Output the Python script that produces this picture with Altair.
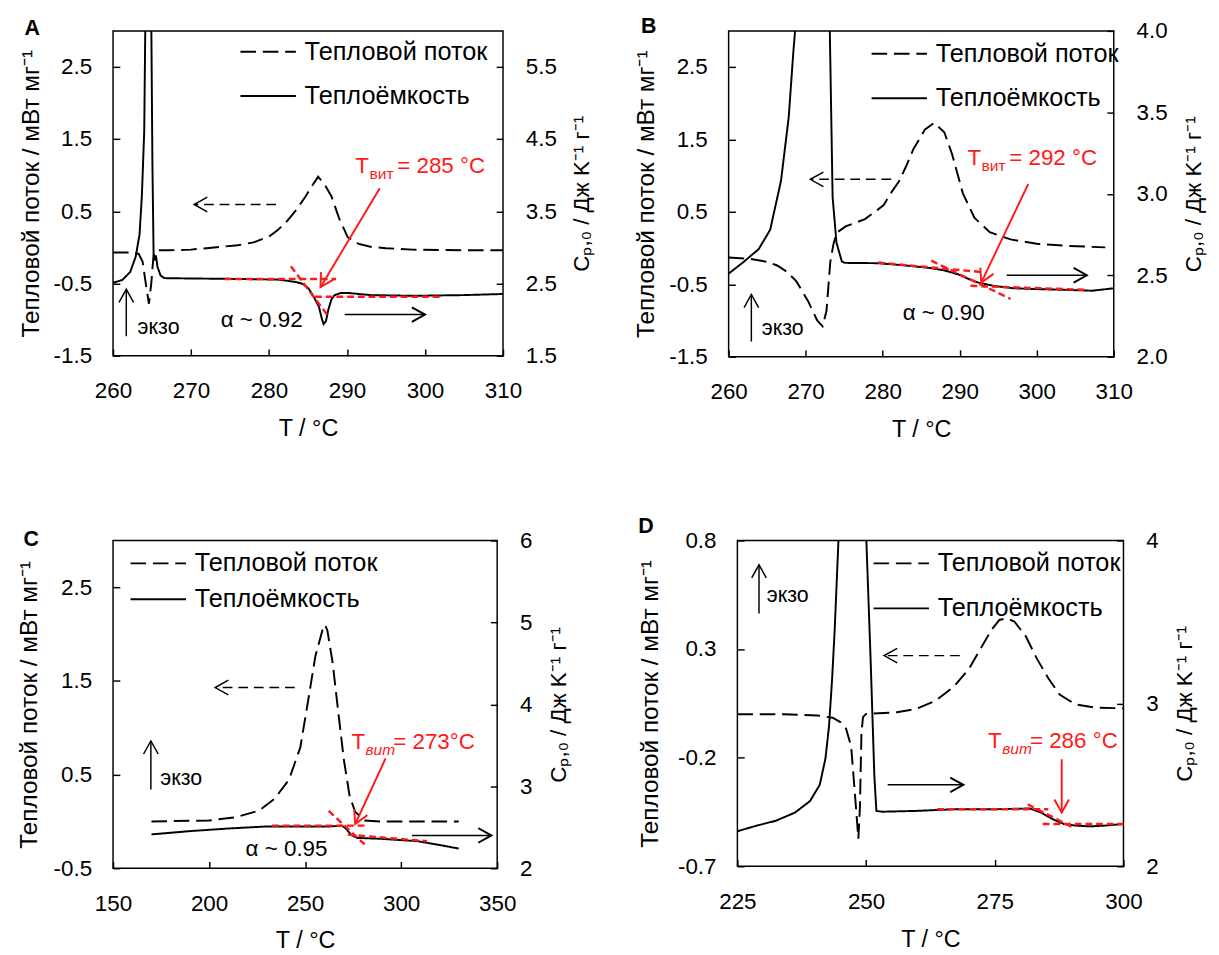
import math
import pandas as pd
import altair as alt

FONT = "Liberation Sans"
HF = "Тепловой поток"
CP = "Теплоёмкость"
LEFT_TITLE = "Тепловой поток / мВт мг⁻¹"
RIGHT_TITLE = "Cₚ,₀ / Дж K⁻¹ г⁻¹"
X_TITLE = "T / °C"

# ---------------- Panel A ----------------
A_hf_T = [260, 262.5, 263.3, 263.8, 264.2, 264.6, 264.9, 265.2, 265.5, 267, 270, 272, 274, 276, 278, 280, 281,
          282.2, 283.5, 284.7, 285.5, 286.3, 287.2, 288.0, 289.0, 290.1, 291.5, 293.0, 295, 298.4, 302, 306, 310]
A_hf_V = [-0.07, -0.07, -0.09, -0.2, -0.5, -0.78, -0.5, -0.1, -0.04, -0.04, -0.03, -0.01, 0.01, 0.03, 0.07, 0.15, 0.23,
          0.35, 0.52, 0.71, 0.85, 0.98, 0.86, 0.71, 0.40, 0.14, 0.05, 0.01, -0.01, -0.03, -0.035, -0.04, -0.04]
A_cp_T = [260, 261.2, 262.2, 262.9, 263.4, 263.7, 264.0, 264.15, 264.5, 264.9, 265.05, 265.2, 265.4, 265.5, 265.7,
          266.1, 266.6, 270, 275, 281.1, 282.2, 283.5, 284.3, 285.0, 285.5, 286.0, 286.4, 286.8, 287.0, 287.3,
          287.6, 288.0, 288.4, 289.2, 290.1, 293.0, 298.4, 305, 310]
A_cp_V = [2.51, 2.55, 2.66, 2.87, 3.18, 3.72, 4.61, 6.2, 9.0, 6.2, 4.16, 2.91, 2.82, 2.89, 2.73,
          2.61, 2.575, 2.57, 2.565, 2.555, 2.54, 2.52, 2.496, 2.44, 2.36, 2.26, 2.18, 2.0, 1.94, 1.98,
          2.136, 2.28, 2.338, 2.37, 2.37, 2.34, 2.33, 2.34, 2.355]
A_red_t1 = [274.3, 285.9, 282.8]
A_red_v1 = [2.563, 2.317, 2.74]
A_red_t2 = [288.6, 302.2, 287.6]
A_red_v2 = [2.563, 2.317, 2.047]
A_red_arrow = [294.2, 3.82, 286.6, 2.45]
A_tg_label = [291.07, 4.12, "= 285 °C"]
A_right_arrow = [289.7, 300.0, 2.07]
A_alpha = [273.8, 1.99, "α ~ 0.92"]
A_left_arrow = [280.9, 270.4, 0.595]
A_exo_arrow = [261.7, -1.23, -0.58]
A_exo_text = [263.15, -1.10]

# ---------------- Panel B ----------------
B_hf_T = [260, 262.9, 265, 266.3, 267.6, 268.8, 270.3, 271.5, 272.2, 272.7, 273.2, 273.6, 274.0, 275.2, 277.7,
          280.1, 281.0, 282.1, 283.0, 284.0, 285.5, 286.7, 288.0, 289.0, 290.4, 291.9, 293.9, 296.6, 300, 304, 308.9]
B_hf_V = [-0.13, -0.15, -0.19, -0.24, -0.33, -0.46, -0.73, -1.0, -1.08, -0.87, -0.19, 0.05, 0.21, 0.30, 0.40,
          0.59, 0.75, 0.92, 1.12, 1.37, 1.64, 1.73, 1.60, 1.3, 0.76, 0.42, 0.22, 0.12, 0.06, 0.03, 0.01]
B_cp_T = [260, 261.9, 263.9, 265.4, 266.8, 267.8, 268.4, 268.8, 270.9, 273.1, 273.5, 274.0, 274.7, 275.1, 279.4,
          283, 286.2, 288, 289.9, 291, 292.4, 294.5, 297, 300, 304, 307.2, 310]
B_cp_V = [2.51, 2.58, 2.66, 2.78, 3.08, 3.47, 3.87, 4.1, 6.0, 4.1, 2.98, 2.70, 2.584, 2.576, 2.574,
          2.56, 2.544, 2.53, 2.504, 2.48, 2.455, 2.434, 2.42, 2.415, 2.41, 2.405, 2.42]
B_red_t1 = [279.4, 286.3, 291.4]
B_red_v1 = [2.578, 2.59, 2.435]
B_red_t2 = [292.8, 296.6, 306.7]
B_red_v2 = [2.52, 2.355, 2.41]
B_red_arrow = [298.9, 3.06, 292.8, 2.455]
B_tg_label = [291.0, 3.22, "= 292 °C"]
B_right_arrow = [296.1, 306.5, 2.50]
B_alpha = [282.6, 2.265, "α ~ 0.90"]
B_left_arrow = [281.1, 270.6, 0.95]
B_exo_arrow = [262.95, -1.29, -0.64]
B_exo_text = [264.3, -1.11]

# ---------------- Panel C ----------------
C_hf_T = [170, 200, 214, 226, 234, 241.6, 247.5, 251.5, 255.4, 259.0, 260.4, 261.6, 264.3, 267.2, 270.2, 273.2,
          276.1, 281, 289, 310, 330]
C_hf_V = [0.0, 0.01, 0.045, 0.115, 0.24, 0.445, 0.79, 1.28, 1.77, 2.04, 2.1, 2.04, 1.70, 1.18, 0.655, 0.27,
          0.10, 0.01, 0.0, 0.0, 0.0]
C_cp_T = [170, 190, 210, 230, 250, 263, 269.2, 271.2, 274.1, 277.1, 289, 299, 308.6, 318.5, 330]
C_cp_V = [2.413, 2.453, 2.485, 2.51, 2.51, 2.51, 2.52, 2.485, 2.405, 2.37, 2.36, 2.345, 2.33, 2.29, 2.24]
C_red_t1 = [232.8, 262.3, 272.2]
C_red_v1 = [2.52, 2.70, 2.41]
C_red_t2 = [281, 281, 313.5]
C_red_v2 = [2.52, 2.29, 2.33]
C_red_arrow = [291.9, 3.34, 276.1, 2.54]
C_tg_label = [274.1, 3.54, "= 273°C"]
C_right_arrow = [305.7, 347, 2.40]
C_alpha = [219, 2.23, "α ~ 0.95"]
C_left_arrow = [244.6, 203.2, 1.43]
C_exo_arrow = [169.7, 0.34, 0.86]
C_exo_text = [174.6, 0.46]

# ---------------- Panel D ----------------
D_hf_T = [225, 234, 240.6, 243.5, 245, 246.1, 247.1, 247.8, 248.5, 248.8, 249.1, 249.4, 250, 252.4, 256, 259.7,
          263.4, 267.1, 270, 272.2, 274.4, 275.9, 277.4, 278.8, 281, 283.2, 285.4, 287.6, 290.6, 294.3, 300]
D_hf_V = [0.0, 0.0, -0.006, -0.016, -0.036, -0.066, -0.148, -0.357, -0.573, -0.43, -0.088, -0.013, 0.0015, 0.005,
          0.009, 0.024, 0.061, 0.128, 0.21, 0.30, 0.39, 0.434, 0.442, 0.427, 0.36, 0.255, 0.166, 0.091, 0.046,
          0.031, 0.027]
D_cp_T = [225, 228.8, 232.5, 236.2, 239.1, 241.0, 242.1, 242.8, 243.4, 243.9, 244.3, 244.7, 247.3, 250.0, 250.9,
          251.6, 252.0, 253.1, 259.7, 267.1, 274.4, 281.8, 284, 286.2, 288.4, 290.6, 293.5, 296.5, 300]
D_cp_V = [2.215, 2.25, 2.28, 2.33, 2.40, 2.50, 2.66, 2.86, 3.15, 3.45, 3.75, 4.05, 6.0, 4.05, 3.25,
          2.56, 2.34, 2.335, 2.34, 2.35, 2.35, 2.355, 2.33, 2.29, 2.26, 2.25, 2.245, 2.25, 2.26]
D_red_t1 = [263.8, 284.3, 281.4]
D_red_v1 = [2.35, 2.26, 2.38]
D_red_t2 = [285.4, 300, 289.9]
D_red_v2 = [2.35, 2.26, 2.243]
D_red_arrow = [288.0, 2.657, 288.0, 2.33]
D_tg_label = [273.7, 2.766, "= 286 °C"]
D_right_arrow = [254.2, 268.9, 2.50]
D_left_arrow = [268.2, 253.5, 0.27]
D_exo_arrow = [229.2, 0.464, 0.688]
D_exo_text = [230.7, 0.546]

# ---------------- styling ----------------
FS = 23
FS_CYR = 25
FS_LEG = 26
TICK = 7
GAP = 4000
LEG_LEN = 57
HEAD = "M 1.8 -1 L 0 0 L 1.8 1"
RED = "#ff1a1a"


def num_label(fmt):
    return f"datum.value < 0 ? '-' + format(-datum.value, '{fmt}') : format(datum.value, '{fmt}')"


def head_angle(x1, y1, x2, y2, kx, ky):
    dx = (x2 - x1) * kx
    dy = -(y2 - y1) * ky
    phi = math.degrees(math.atan2(dy, dx))
    return (phi - 180.0) % 360.0


def make_panel(P):
    W, H = P["size"]
    xs = alt.Scale(domain=P["xdom"], nice=False, zero=False)
    ls = alt.Scale(domain=P["ldom"], nice=False, zero=False)
    rs = alt.Scale(domain=P["rdom"], nice=False, zero=False)
    kx = W / (P["xdom"][1] - P["xdom"][0])
    kl = H / (P["ldom"][1] - P["ldom"][0])
    kr = H / (P["rdom"][1] - P["rdom"][0])

    common = dict(labelFont=FONT, titleFont=FONT, labelFontSize=FS,
                  labelColor="black", titleColor="black", titleFontWeight="normal",
                  ticks=False, domain=False, grid=True, gridColor="black", gridWidth=1.5,
                  gridOpacity=1, gridDash=[TICK, GAP], labelFlush=False, labelOverlap=False)
    x_axis = alt.Axis(values=P["xticks"], format="d", title=X_TITLE, titleFontSize=24, labelPadding=25,
                      titlePadding=15, gridDashOffset=TICK + GAP - (H - TICK), **common)
    l_axis = alt.Axis(values=P["lticks"], labelExpr=num_label(P["lfmt"]), title=LEFT_TITLE,
                      titleFontSize=FS_CYR, orient="left", labelPadding=22, titlePadding=P["ltp"], **common)
    r_axis = alt.Axis(values=P["rticks"], labelExpr=num_label(P["rfmt"]), title=RIGHT_TITLE,
                      titleFontSize=FS, orient="right", labelPadding=23, titlePadding=P["rtp"], titleAngle=270,
                      titleBaseline="top", **common)

    lx, ly, lrow = P["legend"]
    leg = alt.Legend(orient="none", legendX=lx, legendY=ly, title=None, symbolType="stroke",
                     symbolSize=LEG_LEN ** 2, symbolStrokeWidth=2, symbolStrokeColor="black",
                     labelFont=FONT, labelFontSize=FS_LEG, labelColor="black", labelLimit=0,
                     labelOffset=8, rowPadding=lrow, padding=0, clipHeight=23)
    dash = alt.StrokeDash("series:N", scale=alt.Scale(domain=[HF, CP], range=[[16, 7], [1, 0]]),
                          legend=leg)

    def X(f="t"):
        return alt.X(f + ":Q", scale=xs, axis=x_axis)

    def YL(f="v"):
        return alt.Y(f + ":Q", scale=ls, axis=l_axis)

    def YR(f="v"):
        return alt.Y(f + ":Q", scale=rs, axis=r_axis)

    # --- left (heat flow) layer
    hf_df = pd.DataFrame({"t": P["hfT"], "v": P["hfV"], "series": HF})
    hf = alt.Chart(hf_df).mark_line(color="black", strokeWidth=2).encode(x=X(), y=YL(), strokeDash=dash)

    la = P["left_arrow"]
    la_df = pd.DataFrame({"t": [la[0]], "t2": [la[1]], "v": [la[2]]})
    la_rule = alt.Chart(la_df).mark_rule(color="black", strokeWidth=1.5, strokeDash=[10, 6]).encode(
        x=X(), x2="t2:Q", y=YL())
    ea = P["exo_arrow"]
    ea_df = pd.DataFrame({"t": [ea[0]], "v": [ea[1]], "v2": [ea[2]]})
    ea_rule = alt.Chart(ea_df).mark_rule(color="black", strokeWidth=1.5).encode(x=X(), y=YL(), y2="v2:Q")
    lh_df = pd.DataFrame({"t": [la[1], ea[0]], "v": [la[2], ea[2]],
                          "ang": [head_angle(la[0], la[2], la[1], la[2], kx, kl),
                                  head_angle(ea[0], ea[1], ea[0], ea[2], kx, kl)],
                          "c": ["black", "black"]})
    lheads = alt.Chart(lh_df).mark_point(shape=HEAD, filled=False, size=225, strokeWidth=1.5, opacity=1).encode(
        x=X(), y=YL(), angle=alt.Angle("ang:Q", scale=None), color=alt.Color("c:N", scale=None))
    et = P["exo_text"]
    et_df = pd.DataFrame({"t": [et[0]], "v": [et[1]], "s": ["экзо"]})
    exo_txt = alt.Chart(et_df).mark_text(align="left", baseline="middle", font=FONT, fontSize=22,
                                         color="black").encode(x=X(), y=YL(), text="s:N")
    left = alt.layer(hf, la_rule, ea_rule, lheads, exo_txt)

    # --- right (heat capacity) layer
    cp_df = pd.DataFrame({"t": P["cpT"], "v": P["cpV"], "series": CP})
    cp = alt.Chart(cp_df).mark_line(color="black", strokeWidth=2, clip=True).encode(
        x=X(), y=YR(), strokeDash=dash)

    red_df = pd.DataFrame({"t": P["red_t1"], "v": P["red_v1"], "t2": P["red_t2"], "v2": P["red_v2"]})
    red_rules = alt.Chart(red_df).mark_rule(color=RED, strokeWidth=2.5, strokeDash=[7, 4]).encode(
        x=X(), y=YR(), x2="t2:Q", y2="v2:Q")
    ra = P["red_arrow"]
    ra_df = pd.DataFrame({"t": [ra[0]], "v": [ra[1]], "t2": [ra[2]], "v2": [ra[3]]})
    ra_rule = alt.Chart(ra_df).mark_rule(color=RED, strokeWidth=2).encode(
        x=X(), y=YR(), x2="t2:Q", y2="v2:Q")
    ba = P["right_arrow"]
    ba_df = pd.DataFrame({"t": [ba[0]], "t2": [ba[1]], "v": [ba[2]]})
    ba_rule = alt.Chart(ba_df).mark_rule(color="black", strokeWidth=1.5).encode(x=X(), x2="t2:Q", y=YR())
    rh_df = pd.DataFrame({"t": [ra[2], ba[1]], "v": [ra[3], ba[2]],
                          "ang": [head_angle(ra[0], ra[1], ra[2], ra[3], kx, kr),
                                  head_angle(ba[0], ba[2], ba[1], ba[2], kx, kr)],
                          "c": [RED, "black"]})
    rheads = alt.Chart(rh_df).mark_point(shape=HEAD, filled=False, size=225, strokeWidth=2, opacity=1).encode(
        x=X(), y=YR(), angle=alt.Angle("ang:Q", scale=None), color=alt.Color("c:N", scale=None))

    tl = P["tg_label"]
    tl_df = pd.DataFrame({"t": [tl[0]], "v": [tl[1]], "a": ["T"], "b": ["вит"], "c": [tl[2]]})
    tT = alt.Chart(tl_df).mark_text(align="left", baseline="middle", font=FONT, fontSize=FS,
                                    color=RED).encode(x=X(), y=YR(), text="a:N")
    tS = alt.Chart(tl_df).mark_text(align="left", baseline="middle", font=FONT, fontSize=16, dx=14.5, dy=8,
                                    fontStyle=P["sub_style"], color=RED).encode(x=X(), y=YR(), text="b:N")
    tR = alt.Chart(tl_df).mark_text(align="left", baseline="middle", font=FONT, fontSize=FS, dx=43,
                                    color=RED).encode(x=X(), y=YR(), text="c:N")
    rlayers = [cp, red_rules, ra_rule, ba_rule, rheads, tT, tS, tR]
    if P.get("alpha"):
        al = P["alpha"]
        al_df = pd.DataFrame({"t": [al[0]], "v": [al[1]], "s": [al[2]]})
        rlayers.append(alt.Chart(al_df).mark_text(align="left", baseline="middle", font=FONT, fontSize=FS,
                                                  color="black").encode(x=X(), y=YR(), text="s:N"))
    if P.get("indent"):
        # invisible white layout spacer: reproduces the extra left indent of this panel's row
        sp_df = pd.DataFrame({"s": [0]})
        rlayers.append(alt.Chart(sp_df).mark_point(size=1, filled=True, color="white", opacity=1).encode(
            x=alt.value(-P["indent"]), y=alt.value(0)))
    right = alt.layer(*rlayers)

    title = alt.TitleParams(P["letter"], anchor="start", frame="group", dx=P["tdx"],
                            fontSize=22, fontWeight="bold", font=FONT, color="black", offset=P["toff"])
    return alt.layer(left, right).resolve_scale(y="independent").properties(width=W, height=H, title=title)


PA = dict(letter="A", size=(401, 334), xdom=[260, 310], ldom=[-1.5, 3.0], rdom=[1.5, 6.0],
          xticks=[260, 270, 280, 290, 300, 310], lticks=[-1.5, -0.5, 0.5, 1.5, 2.5],
          rticks=[1.5, 2.5, 3.5, 4.5, 5.5], lfmt=".1f", rfmt=".1f", ltp=10, rtp=15,
          hfT=A_hf_T, hfV=A_hf_V, cpT=A_cp_T, cpV=A_cp_V,
          red_t1=A_red_t1, red_v1=A_red_v1, red_t2=A_red_t2, red_v2=A_red_v2,
          red_arrow=A_red_arrow, tg_label=A_tg_label, right_arrow=A_right_arrow, alpha=A_alpha,
          left_arrow=A_left_arrow, exo_arrow=A_exo_arrow, exo_text=A_exo_text,
          sub_style="normal", legend=(130, 10, 18.5), tdx=-91, toff=-9)
PB = dict(letter="B", size=(396, 335), xdom=[260, 310], ldom=[-1.5, 3.0], rdom=[2.0, 4.0],
          xticks=[260, 270, 280, 290, 300, 310], lticks=[-1.5, -0.5, 0.5, 1.5, 2.5],
          rticks=[2.0, 2.5, 3.0, 3.5, 4.0], lfmt=".1f", rfmt=".1f", ltp=11, rtp=16,
          hfT=B_hf_T, hfV=B_hf_V, cpT=B_cp_T, cpV=B_cp_V,
          red_t1=B_red_t1, red_v1=B_red_v1, red_t2=B_red_t2, red_v2=B_red_v2,
          red_arrow=B_red_arrow, tg_label=B_tg_label, right_arrow=B_right_arrow, alpha=B_alpha,
          left_arrow=B_left_arrow, exo_arrow=B_exo_arrow, exo_text=B_exo_text,
          sub_style="normal", legend=(146, 12, 18.7), tdx=-90, toff=-18)
PC = dict(letter="C", size=(395, 337), xdom=[150, 350], ldom=[-0.5, 3.0], rdom=[2.0, 6.0],
          xticks=[150, 200, 250, 300, 350], lticks=[-0.5, 0.5, 1.5, 2.5],
          rticks=[2, 3, 4, 5, 6], lfmt=".1f", rfmt=".0f", ltp=12, rtp=16,
          hfT=C_hf_T, hfV=C_hf_V, cpT=C_cp_T, cpV=C_cp_V,
          red_t1=C_red_t1, red_v1=C_red_v1, red_t2=C_red_t2, red_v2=C_red_v2,
          red_arrow=C_red_arrow, tg_label=C_tg_label, right_arrow=C_right_arrow, alpha=C_alpha,
          left_arrow=C_left_arrow, exo_arrow=C_exo_arrow, exo_text=C_exo_text,
          sub_style="italic", legend=(17, 12, 10), tdx=-92, toff=-22, indent=116)
PD = dict(letter="D", size=(397, 335), xdom=[225, 300], ldom=[-0.7, 0.8], rdom=[2.0, 4.0],
          xticks=[225, 250, 275, 300], lticks=[-0.7, -0.2, 0.3, 0.8],
          rticks=[2, 3, 4], lfmt=".1f", rfmt=".0f", ltp=15, rtp=16,
          hfT=D_hf_T, hfV=D_hf_V, cpT=D_cp_T, cpV=D_cp_V,
          red_t1=D_red_t1, red_v1=D_red_v1, red_t2=D_red_t2, red_v2=D_red_v2,
          red_arrow=D_red_arrow, tg_label=D_tg_label, right_arrow=D_right_arrow, alpha=None,
          left_arrow=D_left_arrow, exo_arrow=D_exo_arrow, exo_text=D_exo_text,
          sub_style="italic", legend=(139, 12, 19.3), tdx=-102, toff=-8)

pa, pb, pc, pd_ = make_panel(PA), make_panel(PB), make_panel(PC), make_panel(PD)

row1 = alt.hconcat(pa, pb, spacing=39).resolve_scale(strokeDash="independent").resolve_legend(
    strokeDash="independent")
row2 = alt.hconcat(pc, pd_, spacing=68).resolve_scale(strokeDash="independent").resolve_legend(
    strokeDash="independent")

chart = alt.vconcat(row1, row2, spacing=74).resolve_scale(strokeDash="independent").resolve_legend(
    strokeDash="independent").properties(
    padding={"left": -10, "top": -7, "right": 5, "bottom": 0}
).configure(font=FONT).configure_view(stroke="black", strokeWidth=1.5)

chart.save("out.html", embed_options={"renderer": "svg", "actions": False})
